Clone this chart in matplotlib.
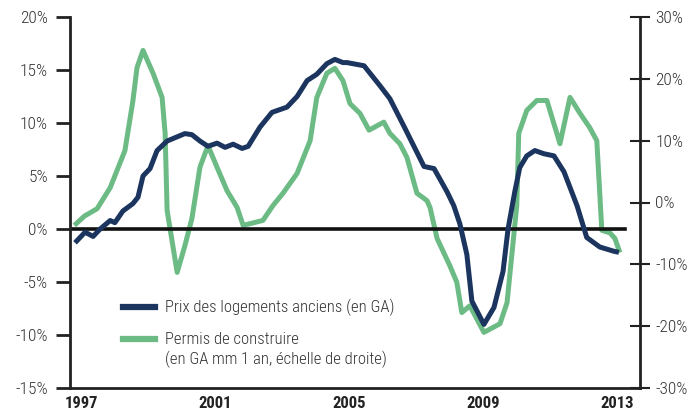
import matplotlib
matplotlib.use("Agg")
import matplotlib.pyplot as plt
from matplotlib.lines import Line2D

plt.rcParams['font.family'] = ['Roboto Condensed', 'Liberation Sans', 'DejaVu Sans']

# Prix des logements anciens (GA, %), left axis
prix_years = [1996.82, 1997.12, 1997.36, 1997.57, 1997.87, 1998.01, 1998.25, 1998.55,
              1998.7, 1998.85, 1999.06, 1999.27, 1999.57, 2000.1, 2000.31, 2000.55,
              2000.79, 2001.06, 2001.3, 2001.54, 2001.81, 2001.99, 2002.34, 2002.7,
              2003.15, 2003.45, 2003.75, 2004.04, 2004.34, 2004.58, 2004.82, 2004.94,
              2005.45, 2005.93, 2006.22, 2006.64, 2007.24, 2007.54, 2007.93, 2008.13,
              2008.31, 2008.52, 2008.67, 2009.03, 2009.33, 2009.6, 2009.75, 2009.95,
              2010.1, 2010.31, 2010.55, 2010.82, 2011.12, 2011.42, 2011.81, 2012.1,
              2012.49, 2012.91, 2013.06]
prix_vals = [-1.3, -0.3, -0.7, 0.0, 0.8, 0.6, 1.7, 2.4,
             3.0, 5.0, 5.7, 7.4, 8.3, 9.0, 8.9, 8.3,
             7.8, 8.1, 7.7, 8.0, 7.6, 7.8, 9.6, 11.0,
             11.5, 12.5, 14.0, 14.6, 15.6, 16.0, 15.7, 15.7,
             15.4, 13.5, 12.3, 9.7, 5.9, 5.7, 3.5, 2.2,
             0.5, -2.4, -6.8, -9.0, -7.4, -4.0, 0.0, 3.5,
             5.8, 6.9, 7.4, 7.1, 6.9, 5.4, 2.2, -0.8,
             -1.7, -2.1, -2.2]

# Permis de construire (GA mm 1 an, %), right axis
permis_years = [1996.8, 1997.1, 1997.48, 1997.87, 1998.31, 1998.55, 1998.67, 1998.85,
                1999.15, 1999.42, 1999.51, 1999.57, 1999.87, 2000.1, 2000.31, 2000.55,
                2000.79, 2001.06, 2001.36, 2001.66, 2001.84, 2002.43, 2002.73, 2003.03,
                2003.45, 2003.84, 2004.04, 2004.34, 2004.58, 2004.82, 2005.03, 2005.33,
                2005.6, 2006.04, 2006.22, 2006.52, 2006.73, 2007.03, 2007.33, 2007.42,
                2007.63, 2008.01, 2008.22, 2008.37, 2008.61, 2009.03, 2009.51, 2009.72,
                2010.01, 2010.07, 2010.31, 2010.61, 2010.91, 2011.3, 2011.6, 2011.9,
                2012.19, 2012.4, 2012.55, 2012.79, 2012.94, 2013.09]
permis_vals = [-3.7, -2.2, -1.0, 2.4, 8.4, 16.5, 21.8, 24.6,
               20.9, 17.0, 11.2, -1.3, -11.3, -7.0, -2.6, 5.7,
               9.2, 5.7, 1.9, -0.8, -3.7, -2.9, -0.5, 1.5,
               4.7, 10.0, 17.0, 20.9, 21.7, 19.7, 16.0, 14.4,
               11.7, 13.0, 11.2, 9.5, 7.3, 1.5, 0.3, -0.8,
               -5.8, -10.2, -12.9, -17.8, -16.7, -21.0, -19.6, -16.2,
               -0.5, 11.2, 14.9, 16.5, 16.5, 9.5, 17.0, 14.4,
               12.1, 10.0, -4.5, -4.9, -5.8, -8.1]

left_ticks = [-15, -10, -5, 0, 5, 10, 15, 20]
right_ticks = [-30, -20, -10, 0, 10, 20, 30]
year_ticks = [1997, 2001, 2005, 2009, 2013]

navy = '#1b355f'
green = '#6cbb85'
text_col = '#333333'

fig = plt.figure(figsize=(6.97, 4.16), dpi=100)
ax = fig.add_axes([70 / 697, 1 - 388 / 416, 570 / 697, 371 / 416])
ax2 = ax.twinx()

ax.set_xlim(1996.67, 2013.69)
ax.set_ylim(-15, 20)
ax2.set_ylim(-30, 30)

ax.axhline(0, xmin=0, xmax=(625 - 70) / 570, color='#111111', lw=2.6, zorder=1)
ax.plot(prix_years, prix_vals, color=navy, lw=3.6, solid_capstyle='butt', zorder=3)
ax2.plot(permis_years, permis_vals, color=green, lw=3.6, solid_capstyle='butt', zorder=2)

# keep navy line above the green one
ax.set_zorder(ax2.get_zorder() + 1)
ax.patch.set_visible(False)

for a in (ax, ax2):
    a.spines['top'].set_visible(False)
ax.spines['right'].set_visible(False)
ax2.spines['left'].set_visible(False)
ax2.spines['bottom'].set_visible(False)
ax.spines['left'].set_linewidth(2)
ax.spines['bottom'].set_linewidth(2)
ax2.spines['right'].set_linewidth(2)
for s in ('left', 'bottom'):
    ax.spines[s].set_color('#222222')
ax2.spines['right'].set_color('#222222')

ax.set_yticks(left_ticks)
ax.set_yticklabels([f'{v}%' for v in left_ticks], fontweight='light')
ax.tick_params(axis='y', direction='out', length=10, width=2, color='#222222',
               labelsize=12.5, labelcolor=text_col, pad=6)
ax2.set_yticks(right_ticks)
ax2.set_yticklabels([f'{v}%' for v in right_ticks], fontweight='light')
ax2.tick_params(axis='y', direction='inout', length=14, width=1.5, color='#222222',
                labelsize=12.5, labelcolor=text_col, pad=4)

ax.set_xticks(year_ticks)
ax.set_xticklabels([str(y) for y in year_ticks], fontweight='bold')
ax.tick_params(axis='x', length=0, labelsize=12, labelcolor='#222222', pad=6)

# legend drawn by hand to match the layout
def fx(px):
    return px / 697

def fy(py):
    return 1 - py / 416

fig.add_artist(Line2D([fx(123), fx(155)], [fy(307), fy(307)], color=navy, lw=4.5,
                      transform=fig.transFigure))
fig.add_artist(Line2D([fx(123), fx(155)], [fy(339), fy(339)], color=green, lw=4.5,
                      transform=fig.transFigure))
legend_lines = [('Prix des logements anciens (en GA)', 307),
                ('Permis de construire', 339),
                ('(en GA mm 1 an, échelle de droite)', 359)]
for label, py in legend_lines:
    fig.text(fx(165), fy(py), label, va='center', fontsize=12,
             fontweight='light', color=text_col)

fig.savefig('out.png', dpi=100)
